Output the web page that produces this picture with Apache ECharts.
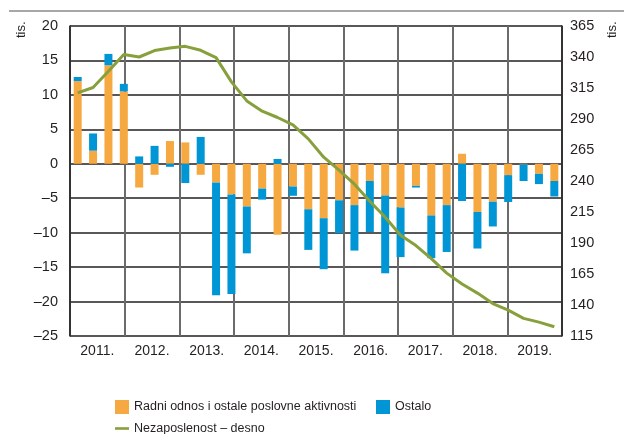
<!DOCTYPE html>
<html>
<head>
<meta charset="utf-8">
<script src="https://cdn.jsdelivr.net/npm/echarts@6/dist/echarts.min.js"></script>
<style>
  html, body { margin: 0; padding: 0; background: #fff; }
  #main { width: 624px; height: 434px; }
</style>
</head>
<body>
<div id="main"></div>
<script>
var FONT = '"Liberation Sans Narrow", "Liberation Sans", Arial, sans-serif';

var periods = ['2011Q1','2011Q2','2011Q3','2011Q4','2012Q1','2012Q2','2012Q3','2012Q4',
               '2013Q1','2013Q2','2013Q3','2013Q4','2014Q1','2014Q2','2014Q3','2014Q4',
               '2015Q1','2015Q2','2015Q3','2015Q4','2016Q1','2016Q2','2016Q3','2016Q4',
               '2017Q1','2017Q2','2017Q3','2017Q4','2018Q1','2018Q2','2018Q3','2018Q4'];
var years = ['2011.','2012.','2013.','2014.','2015.','2016.','2017.','2018.','2019.'];

// tisuće
var radniOdnos = [12.0, 1.9, 14.3, 10.5, -3.45, -1.6, 3.3, 3.1,
                  -1.6, -2.7, -4.45, -6.2, -3.6, -10.3, -3.3, -6.6,
                  -7.9, -5.3, -6.0, -2.5, -4.6, -6.35, -3.2, -7.5,
                  -6.0, 1.45, -7.0, -5.5, -1.65, -0.1, -1.45, -2.5];
var ostalo = [0.6, 2.5, 1.65, 1.1, 1.07, 2.6, -0.44, -2.8,
              3.9, -16.4, -14.45, -6.8, -1.6, 0.7, -1.35, -5.9,
              -7.4, -4.75, -6.6, -7.4, -11.3, -7.2, -0.25, -6.2,
              -6.8, -5.4, -5.3, -3.6, -3.9, -2.4, -1.5, -2.25];
var nezaposlenost = [311.0, 315.4, 328.5, 342.0, 340.0, 345.2, 347.3, 348.6,
                     345.4, 339.5, 319.9, 304.6, 296.3, 291.2, 285.2, 274.0,
                     259.2, 248.7, 237.4, 223.7, 210.8, 196.3, 187.9, 177.4,
                     165.7, 156.9, 149.6, 141.2, 135.9, 129.2, 126.2, 122.5];

var leftTicks = { min: -25, max: 20, step: 5 };
var rightTicks = { min: 115, max: 365, step: 25 };

var orange = '#F6A841';
var blue = '#0096D6';
var green = '#88A03C';
var ink = '#231F20';

var legendText = { fontFamily: FONT, fontSize: 12.5, color: ink };

var myChart = echarts.init(document.getElementById('main'));
var option = {
    animation: false,
    textStyle: { fontFamily: FONT },
    grid: { left: 70, right: 62, top: 26, bottom: 98 },
    legend: [{
        left: 110, top: 395, itemWidth: 14, itemHeight: 14, itemGap: 4,
        textStyle: legendText,
        data: [{ name: 'Radni odnos i ostale poslovne aktivnosti', icon: 'rect' }]
    }, {
        left: 371, top: 395, itemWidth: 14, itemHeight: 14, itemGap: 4,
        textStyle: legendText,
        data: [{ name: 'Ostalo', icon: 'rect' }]
    }, {
        left: 110, top: 417, itemWidth: 14, itemHeight: 14, itemGap: 4,
        textStyle: legendText,
        data: [{ name: 'Nezaposlenost – desno', icon: 'path://M0,6 L14,6 L14,8.6 L0,8.6 Z' }]
    }],
    xAxis: [{
        type: 'category',
        data: periods,
        axisLine: { show: false },
        axisTick: { show: false },
        axisLabel: { show: false },
        splitLine: { show: false }
    }, {
        type: 'category',
        data: years,
        position: 'bottom',
        axisLine: { show: false, onZero: false },
        axisTick: { show: false },
        axisLabel: { color: ink, fontSize: 14, fontFamily: FONT, margin: 8 },
        splitLine: { show: true, interval: 0, lineStyle: { color: '#6b6b6b', width: 2 } }
    }],
    yAxis: [{
        type: 'value',
        min: leftTicks.min, max: leftTicks.max, interval: leftTicks.step,
        axisLine: { show: true, lineStyle: { color: ink, width: 1.5 } },
        axisTick: { show: false },
        axisLabel: {
            color: ink, fontSize: 14.5, fontFamily: FONT, margin: 12,
            formatter: function (v) { return String(v).replace('-', '–'); }
        },
        splitLine: { show: true, lineStyle: { color: ink, width: 1.5 } }
    }, {
        type: 'value',
        min: rightTicks.min, max: rightTicks.max, interval: rightTicks.step,
        axisLine: { show: true, lineStyle: { color: ink, width: 1.5 } },
        axisTick: { show: false },
        axisLabel: { color: ink, fontSize: 14.5, fontFamily: FONT, margin: 8 },
        splitLine: { show: false }
    }],
    series: [{
        name: 'Radni odnos i ostale poslovne aktivnosti',
        type: 'bar',
        stack: 'tok',
        barWidth: 8,
        itemStyle: { color: orange },
        data: radniOdnos
    }, {
        name: 'Ostalo',
        type: 'bar',
        stack: 'tok',
        barWidth: 8,
        itemStyle: { color: blue },
        data: ostalo
    }, {
        name: 'Nezaposlenost – desno',
        type: 'line',
        yAxisIndex: 1,
        symbol: 'none',
        lineStyle: { color: green, width: 3 },
        itemStyle: { color: green },
        data: nezaposlenost
    }],
    graphic: [{
        type: 'line',
        shape: { x1: 9, y1: 11, x2: 624, y2: 11 },
        style: { stroke: '#8a8a8a', lineWidth: 1.5 }
    }, {
        type: 'text',
        x: 15, y: 38, rotation: Math.PI / 2,
        style: { text: 'tis.', fontFamily: FONT, fontSize: 13, fill: ink }
    }, {
        type: 'text',
        x: 606, y: 38, rotation: Math.PI / 2,
        style: { text: 'tis.', fontFamily: FONT, fontSize: 13, fill: ink }
    }]
};
myChart.setOption(option);
</script>
</body>
</html>
